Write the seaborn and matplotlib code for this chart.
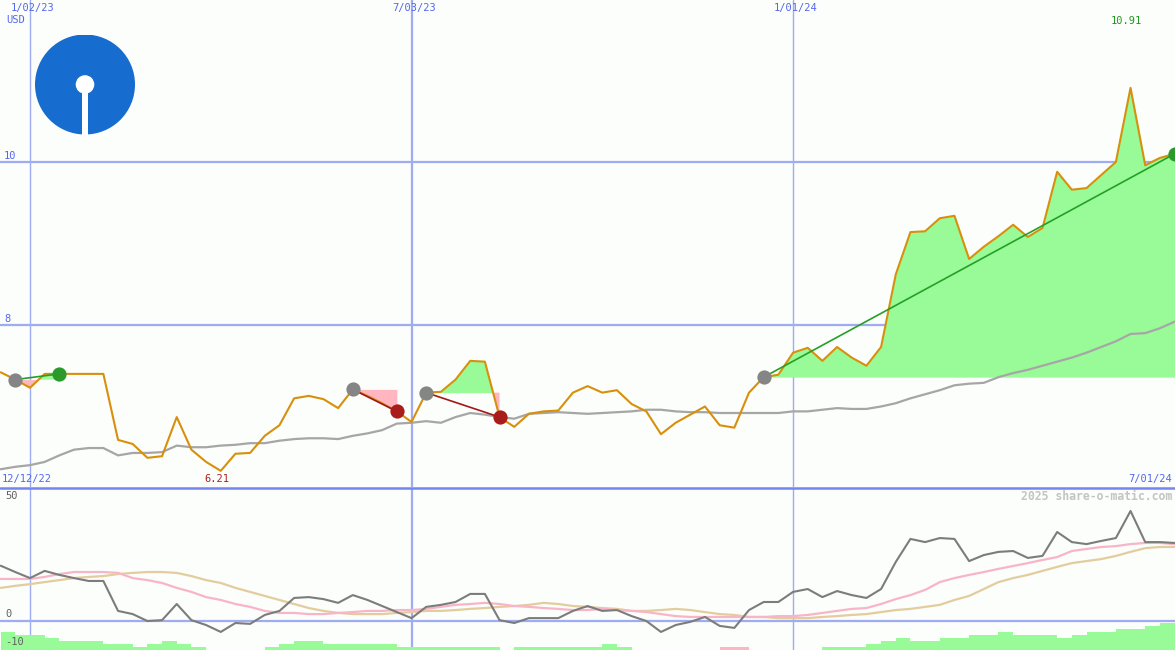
import pandas as pd
import matplotlib
matplotlib.use('Agg')
import matplotlib.pyplot as plt
import matplotlib.patches as mpatches
import seaborn as sns

# weekly data, Mondays 12/19/22 .. 7/01/24
weeks = pd.date_range('2022-12-19', '2024-07-01', freq='7D')

price = [7.42, 7.33, 7.23, 7.40, 7.40, 7.40, 7.40, 7.40, 6.59, 6.54,
         6.37, 6.39, 6.87, 6.47, 6.32, 6.21, 6.42, 6.43, 6.64, 6.77,
         7.10, 7.13, 7.09, 6.98, 7.21, 7.13, 7.04, 6.94, 6.81, 7.17,
         7.18, 7.33, 7.56, 7.55, 6.87, 6.75, 6.91, 6.94, 6.95, 7.17,
         7.25, 7.17, 7.20, 7.03, 6.94, 6.66, 6.80, 6.90, 7.00, 6.77,
         6.74, 7.17, 7.36, 7.39, 7.66, 7.72, 7.56, 7.73, 7.60, 7.50,
         7.73, 8.62, 9.14, 9.15, 9.31, 9.34, 8.81, 8.96, 9.09, 9.23,
         9.08, 9.19, 9.88, 9.66, 9.68, 9.84, 10.00, 10.91, 9.96, 10.05,
         10.10]

moving_avg = [6.23, 6.26, 6.28, 6.32, 6.40, 6.47, 6.49, 6.49, 6.40, 6.43,
              6.43, 6.44, 6.52, 6.50, 6.50, 6.52, 6.53, 6.55, 6.55, 6.58,
              6.60, 6.61, 6.61, 6.60, 6.64, 6.67, 6.71, 6.79, 6.80, 6.82,
              6.80, 6.87, 6.92, 6.90, 6.87, 6.85, 6.91, 6.92, 6.93, 6.92,
              6.91, 6.92, 6.93, 6.94, 6.96, 6.96, 6.94, 6.93, 6.93, 6.92,
              6.92, 6.92, 6.92, 6.92, 6.94, 6.94, 6.96, 6.98, 6.97, 6.97,
              7.00, 7.04, 7.10, 7.15, 7.20, 7.26, 7.28, 7.29, 7.36, 7.41,
              7.45, 7.50, 7.55, 7.60, 7.66, 7.73, 7.80, 7.89, 7.90, 7.96,
              8.04]

# lower panel: oscillator and its two smoothed lines
osc = [19.2, 17.0, 14.9, 17.4, 16.0, 14.9, 13.9, 13.9, 3.5, 2.4,
       0.0, 0.3, 5.9, 0.3, -1.4, -3.8, -0.7, -1.0, 2.1, 3.5,
       8.0, 8.3, 7.6, 6.3, 9.0, 7.3, 5.2, 3.1, 1.0, 4.9,
       5.6, 6.6, 9.4, 9.4, 0.3, -0.7, 1.0, 1.0, 1.0, 3.5,
       5.2, 3.5, 3.8, 1.7, 0.0, -3.8, -1.4, -0.3, 1.4, -1.7,
       -2.4, 3.8, 6.6, 6.6, 10.1, 11.1, 8.3, 10.4, 9.0, 8.0,
       11.1, 20.5, 28.5, 27.4, 28.8, 28.5, 20.8, 22.9, 24.0, 24.3,
       21.9, 22.6, 30.9, 27.4, 26.7, 27.8, 28.8, 38.2, 27.4, 27.4,
       27.1]

osc_fast = [14.6, 14.6, 14.6, 15.3, 16.3, 17.0, 17.0, 17.0, 16.7, 14.9,
            14.2, 13.2, 11.5, 10.1, 8.3, 7.3, 5.9, 4.9, 3.5, 2.8,
            2.8, 2.4, 2.4, 2.8, 3.1, 3.5, 3.5, 3.8, 3.8, 4.2,
            4.9, 5.6, 5.9, 6.3, 5.9, 5.2, 4.9, 4.5, 4.2, 3.8,
            3.8, 4.2, 3.8, 3.5, 3.1, 2.4, 1.7, 1.4, 1.4, 1.4,
            1.4, 1.4, 1.4, 1.7, 1.7, 2.1, 2.8, 3.5, 4.2, 4.5,
            5.9, 7.6, 9.0, 10.8, 13.5, 14.9, 16.0, 17.0, 18.1, 19.1,
            20.1, 21.2, 22.2, 24.3, 25.0, 25.7, 26.0, 26.7, 27.1, 27.1,
            26.7]

osc_slow = [11.5, 12.2, 12.8, 13.5, 14.2, 14.9, 15.3, 15.6, 16.3, 16.7,
            17.0, 17.0, 16.7, 15.6, 14.2, 13.2, 11.5, 10.1, 8.7, 7.3,
            5.9, 4.5, 3.5, 2.8, 2.4, 2.4, 2.4, 2.8, 3.1, 3.5,
            3.5, 3.8, 4.2, 4.5, 4.9, 5.2, 5.6, 6.3, 5.9, 5.2,
            4.9, 4.5, 4.2, 3.5, 3.5, 3.8, 4.2, 3.8, 3.1, 2.4,
            2.1, 1.4, 1.4, 1.0, 1.0, 1.0, 1.4, 1.7, 2.1, 2.4,
            3.1, 3.8, 4.2, 4.9, 5.6, 7.3, 8.7, 11.1, 13.5, 14.9,
            16.0, 17.4, 18.8, 20.1, 20.8, 21.5, 22.6, 24.0, 25.3, 25.7,
            25.7]

vol_level = [6, 5, 5, 4, 3, 3, 3, 2, 2, 1,
             2, 3, 2, 1, 0, 0, 0, 0, 1, 2,
             3, 3, 2, 2, 2, 2, 2, 1, 1, 1,
             1, 1, 1, 1, 0, 1, 1, 1, 1, 1,
             1, 2, 1, 0, 0, 0, 0, 0, 0, 1,
             1, 0, 0, 0, 0, 0, 1, 1, 1, 2,
             3, 4, 3, 3, 4, 4, 5, 5, 6, 5,
             5, 5, 4, 5, 6, 6, 7, 7, 8, 9,
             9]
down_weeks = [49, 50]

# (entry week, exit week)
trades = [(1, 4), (24, 27), (29, 34), (52, 80)]

grid_dates = ['2023-01-02', '2023-07-03', '2024-01-01']
grid_labels = ['1/02/23', '7/03/23', '1/01/24']
grid_widths = [1.0, 1.6, 1.0]
price_levels = [10, 8]

BG = '#fbfefb'
GRID = '#9eacf2'
TXT = '#5566ee'
GREEN_FILL = '#98fb98'
PINK = '#ffb6c1'

sns.set_theme(style='white')
plt.rcParams['font.family'] = ['DejaVu Sans Mono']

fig = plt.figure(figsize=(11.75, 6.5), dpi=100, facecolor=BG)
ax = fig.add_axes([0, 163 / 650, 1, 487 / 650])
axb = fig.add_axes([0, 0, 1, 162 / 650])
axv = axb.twinx()

x0 = pd.Timestamp('2023-01-02') - pd.Timedelta(days=14.31)
x1 = pd.Timestamp('2024-07-01') + pd.Timedelta(hours=5)

for a in (ax, axb, axv):
    a.set_xlim(x0, x1)
    a.set_xticks([])
    a.set_yticks([])
    for s in a.spines.values():
        s.set_visible(False)
ax.set_facecolor(BG)
ax.set_ylim(6.012, 11.988)
axb.set_ylim(-10.07, 46.18)
axv.set_ylim(0, 54)
axv.set_facecolor(BG)
axv.set_zorder(0)
axb.set_zorder(1)
axb.patch.set_visible(False)

df = pd.DataFrame({'week': weeks, 'price': price, 'ma': moving_avg,
                   'osc': osc, 'fast': osc_fast, 'slow': osc_slow,
                   'vol': vol_level})

# grid
for d, w in zip(grid_dates, grid_widths):
    ax.axvline(pd.Timestamp(d), color=GRID, lw=w, zorder=0)
    axv.axvline(pd.Timestamp(d), color=GRID, lw=w, zorder=0)
for lv in price_levels:
    ax.axhline(lv, color=GRID, lw=1.6, zorder=0)
    ax.annotate(str(lv), (0, lv), xycoords=('axes fraction', 'data'),
                xytext=(4, 1), textcoords='offset pixels', color=TXT,
                fontsize=7.5, va='bottom', ha='left')
axb.axhline(0, color=GRID, lw=1.6, zorder=0)

# trade shading, lines and markers
for a_i, b_i in trades:
    seg = df.iloc[a_i:b_i + 1]
    entry = price[a_i]
    ax.fill_between(seg['week'], seg['price'], entry, where=seg['price'] >= entry,
                    interpolate=True, color=GREEN_FILL, lw=0, zorder=1)
    ax.fill_between(seg['week'], seg['price'], entry, where=seg['price'] <= entry,
                    interpolate=True, color=PINK, lw=0, zorder=1)

sns.lineplot(data=df, x='week', y='ma', ax=ax, color='#a6a6a6', lw=1.6, zorder=2)
sns.lineplot(data=df, x='week', y='price', ax=ax, color='#d8900c', lw=1.5, zorder=3)

for a_i, b_i in trades:
    win = price[b_i] > price[a_i]
    lc = '#25a025' if win else '#a01818'
    mc = '#2a9a2a' if win else '#a81c1c'
    ax.plot([weeks[a_i], weeks[b_i]], [price[a_i], price[b_i]], color=lc, lw=1.2, zorder=4)
    ax.scatter([weeks[a_i]], [price[a_i]], s=105, color='#858585', lw=0, zorder=5)
    ax.scatter([weeks[b_i]], [price[b_i]], s=105, color=mc, lw=0, zorder=5, clip_on=False)

# lower panel
vol_colors = [PINK if i in down_weeks else GREEN_FILL for i in range(len(weeks))]
axv.bar(df['week'], df['vol'], width=7, align='edge', color=vol_colors, lw=0, zorder=1)
sns.lineplot(data=df, x='week', y='slow', ax=axb, color='#e3cc9e', lw=1.6)
sns.lineplot(data=df, x='week', y='fast', ax=axb, color='#f9b5c8', lw=1.6)
sns.lineplot(data=df, x='week', y='osc', ax=axb, color='#7c7c7c', lw=1.5)
for a in (ax, axb):
    a.set_xlabel('')
    a.set_ylabel('')

# separator between panels
fig.add_artist(plt.Line2D([0, 1], [162.5 / 650, 162.5 / 650], color='#7585ef', lw=1.8))

# texts
fs = 7.5
for d, lab in zip(grid_dates, grid_labels):
    ax.annotate(lab, (pd.Timestamp(d), 1), xycoords=('data', 'axes fraction'),
                xytext=(3, -8), textcoords='offset pixels', ha='center', va='center',
                color=TXT, fontsize=fs)
ax.text(6 / 1175, 1 - 20 / 487, 'USD', transform=ax.transAxes, color=TXT,
        fontsize=fs, va='center', ha='left')
ax.text(2 / 1175, 1 - 479 / 487, '12/12/22', transform=ax.transAxes, color=TXT,
        fontsize=fs, va='center', ha='left')
ax.text(1172 / 1175, 1 - 479 / 487, '7/01/24', transform=ax.transAxes, color=TXT,
        fontsize=fs, va='center', ha='right')
lo = price.index(min(price))
hi = price.index(max(price))
ax.annotate(f'{price[lo]:.2f}', (weeks[lo], 0), xycoords=('data', 'axes fraction'),
            xytext=(-4, 8), textcoords='offset pixels', ha='center', va='center',
            color='#aa2020', fontsize=fs)
ax.annotate(f'{price[hi]:.2f}', (weeks[hi], 1), xycoords=('data', 'axes fraction'),
            xytext=(-4, -21), textcoords='offset pixels', ha='center', va='center',
            color='#1f9a1f', fontsize=fs)

axb.text(1172 / 1175, 1 - 8 / 162, '2025 share-o-matic.com', transform=axb.transAxes,
         color='#c4c4c4', fontsize=8.3, fontweight='bold', va='center', ha='right')
for lab, yy in zip(['50', '0', '-10'], [496, 614, 642]):
    axb.text(5 / 1175, (650 - yy) / 162, lab, transform=axb.transAxes,
             color='#606060', fontsize=fs, va='center', ha='left')

# logo
lg = fig.add_axes([35 / 1175, (650 - 134.5) / 650, 100 / 1175, 100 / 650])
lg.set_xlim(0, 100)
lg.set_ylim(100, 0)
lg.axis('off')
lg.add_patch(mpatches.Circle((50, 50), 50, color='#166ccf', lw=0))
lg.add_patch(mpatches.Rectangle((47.3, 55), 5.6, 46, color='white', lw=0))
lg.add_patch(mpatches.Circle((50, 50), 9.3, color='white', lw=0))

fig.savefig('out.png', dpi=100, facecolor=BG)
